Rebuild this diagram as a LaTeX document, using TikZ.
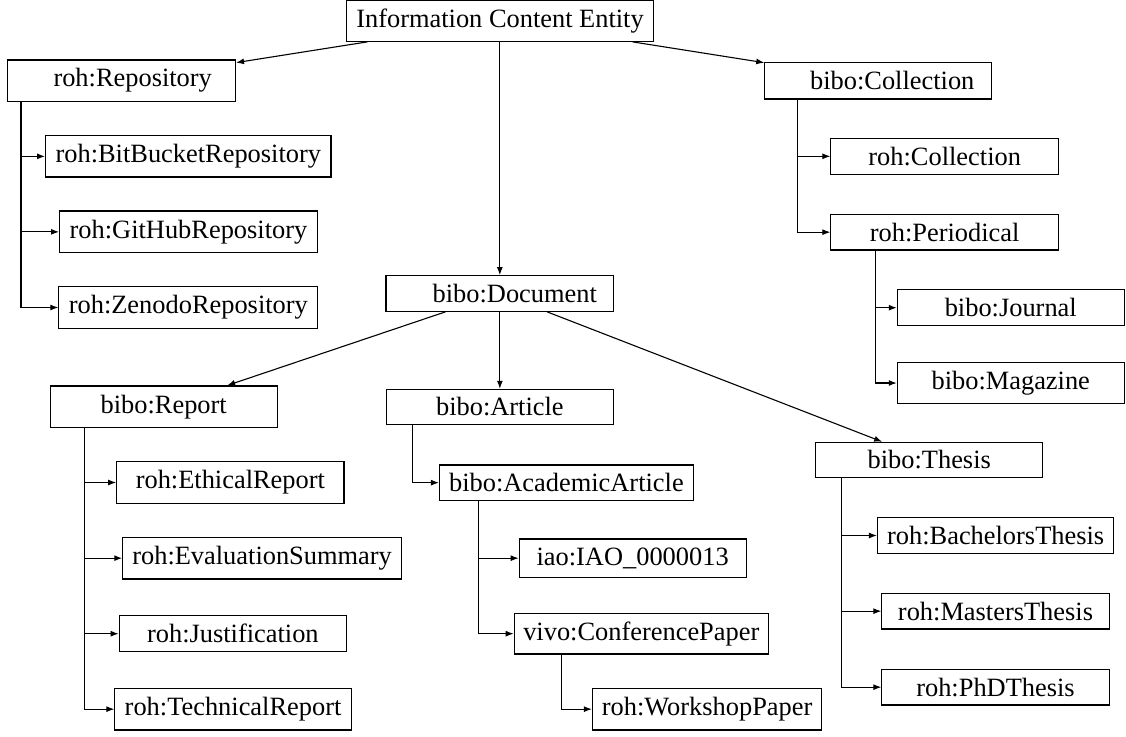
\documentclass[tikz,border=0pt]{standalone}
\usepackage{fontspec}
\setmainfont{Liberation Serif}
\usetikzlibrary{arrows.meta}
\begin{document}
\begin{tikzpicture}[x=0.5pt,y=-0.5pt,
  box/.style={draw, line width=0.55pt, inner sep=1pt, font=\fontsize{13.2}{15}\selectfont},
  conn/.style={line width=0.55pt, -{Latex[length=4pt,width=3pt]}},
  tree/.style={line width=0.55pt, -{Latex[length=4pt,width=3pt]}}]
\useasboundingbox (0,0) rectangle (1126,736);
% top level
\node[box, minimum width=153.5pt, minimum height=20.4pt] (ice) at (500,20.9) {Information Content Entity};
\node[box, minimum width=113.8pt, minimum height=20.65pt] (repo) at (121.7,80.65) {\hspace*{11pt}roh:Repository};
\node[box, minimum width=142.7pt, minimum height=20.65pt] (bb) at (188.3,156.35) {roh:BitBucketRepository};
\node[box, minimum width=128.9pt, minimum height=20.85pt] (gh) at (188.5,231.85) {roh:GitHubRepository};
\node[box, minimum width=129.45pt, minimum height=20.8pt] (zen) at (188.35,307.5) {roh:ZenodoRepository};
\node[box, minimum width=113.8pt, minimum height=17.8pt] (doc) at (499.8,293.5) {\hspace*{15pt}bibo:Document};
\node[box, minimum width=113.45pt, minimum height=18.35pt] (bcol) at (878.25,80.65) {\hspace*{14pt}bibo:Collection};
\node[box, minimum width=113.8pt, minimum height=18pt] (rcol) at (944.7,156.3) {roh:Collection};
\node[box, minimum width=113.8pt, minimum height=17.85pt] (per) at (944.7,232.15) {roh:Periodical};
\node[box, minimum width=113.45pt, minimum height=18pt] (jour) at (1010.75,307.7) {bibo:Journal};
\node[box, minimum width=113.45pt, minimum height=20.7pt] (mag) at (1010.75,383) {bibo:Magazine};
% document children
\node[box, minimum width=113.45pt, minimum height=20.85pt] (rep) at (163.75,406.85) {bibo:Report};
\node[box, minimum width=113.65pt, minimum height=20.8pt] (eth) at (230.35,482.5) {roh:EthicalReport};
\node[box, minimum width=139.3pt, minimum height=20.85pt] (eval) at (262.1,558.15) {roh:EvaluationSummary};
\node[box, minimum width=113.65pt, minimum height=18pt] (just) at (232.85,633.7) {roh:Justification};
\node[box, minimum width=118.15pt, minimum height=20.85pt] (tech) at (233.05,709.15) {roh:TechnicalReport};
\node[box, minimum width=113.45pt, minimum height=17.7pt] (art) at (499.85,407) {bibo:Article};
\node[box, minimum width=126.9pt, minimum height=17.65pt] (acad) at (566.4,482.65) {bibo:AcademicArticle};
\node[box, minimum width=113.45pt, minimum height=19.15pt] (iao) at (632.65,558.15) {iao:IAO\_0000013};
\node[box, minimum width=127.1pt, minimum height=20.35pt] (vivo) at (641.3,633.65) {vivo:ConferencePaper};
\node[box, minimum width=114.75pt, minimum height=20.85pt] (work) at (707.15,709.15) {roh:WorkshopPaper};
\node[box, minimum width=113.45pt, minimum height=17.7pt] (thes) at (929.25,460) {bibo:Thesis};
\node[box, minimum width=118.15pt, minimum height=17.8pt] (bach) at (995.65,535.5) {roh:BachelorsThesis};
\node[box, minimum width=113.6pt, minimum height=17.85pt] (mast) at (995.5,611.15) {roh:MastersThesis};
\node[box, minimum width=113.6pt, minimum height=17.85pt] (phd) at (995.5,687.15) {roh:PhDThesis};
% straight connectors
\draw[conn] (ice) -- (repo);
\draw[conn] (ice) -- (bcol);
\draw[conn] (ice.south -| doc.north) -- (doc.north);
\draw[conn] (doc) -- (rep);
\draw[conn] (doc.south -| art.north) -- (art.north);
\draw[conn] (doc) -- (thes);
% tree trunks
\coordinate (repoT) at ([xshift=6.8pt]repo.south west);
\coordinate (bcolT) at ([xshift=16.7pt]bcol.south west);
\coordinate (perT) at ([xshift=22.4pt]per.south west);
\coordinate (repT) at ([xshift=17.2pt]rep.south west);
\coordinate (artT) at ([xshift=13.1pt]art.south west);
\coordinate (acadT) at ([xshift=19.95pt]acad.south west);
\coordinate (vivoT) at ([xshift=23.8pt]vivo.south west);
\coordinate (thesT) at ([xshift=13.1pt]thes.south west);
\draw[tree] (repoT) |- (bb.west);
\draw[tree] (repoT) |- (gh.west);
\draw[tree] (repoT) |- (zen.west);
\draw[tree] (bcolT) |- (rcol.west);
\draw[tree] (bcolT) |- (per.west);
\draw[tree] (perT) |- (jour.west);
\draw[tree] (perT) |- (mag.west);
\draw[tree] (repT) |- (eth.west);
\draw[tree] (repT) |- (eval.west);
\draw[tree] (repT) |- (just.west);
\draw[tree] (repT) |- (tech.west);
\draw[tree] (artT) |- (acad.west);
\draw[tree] (acadT) |- (iao.west);
\draw[tree] (acadT) |- (vivo.west);
\draw[tree] (vivoT) |- (work.west);
\draw[tree] (thesT) |- (bach.west);
\draw[tree] (thesT) |- (mast.west);
\draw[tree] (thesT) |- (phd.west);
\end{tikzpicture}
\end{document}
